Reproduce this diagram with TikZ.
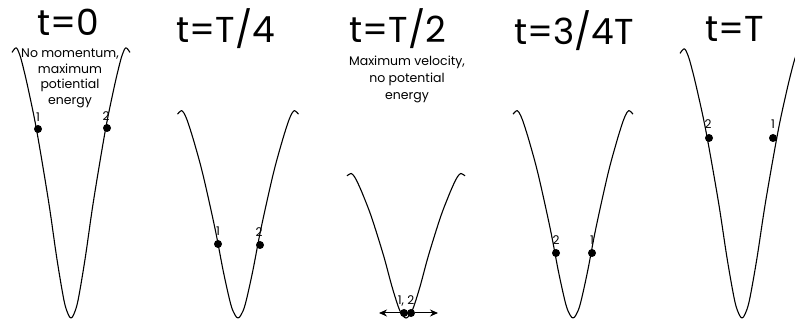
\documentclass[tikz,border=0pt]{standalone}
\usepackage{fontspec}
\setmainfont{Poppins}
\usetikzlibrary{arrows.meta}
\tikzset{
  wellline/.style={line width=1.1pt, black, line join=round},
  ball/.style={circle, fill=black, inner sep=0pt, minimum size=8pt},
  numlabel/.style={font=\fontsize{12}{12}\selectfont, inner sep=0pt, anchor=center},
  titletext/.style={font=\fontsize{36}{36}\selectfont, inner sep=0pt, anchor=base},
  notetext/.style={font=\fontsize{12.5}{15.5}\selectfont, align=center, inner sep=0pt, anchor=north},
  motion/.style={-{Stealth[length=8pt,width=7pt]}, line width=1pt}
}
% #1 centre x, #2 bottom y, #3 half width at rim, #4 depth
\newcommand\wellcurve[4]{%
  \begin{scope}[shift={(#1,#2)}, x=#3pt, y=#4pt]
    \draw[wellline] plot[smooth, tension=0.55] coordinates {
      (-1,0.98) (-0.93,0.997) (-0.87,0.972) (-0.81,0.925) (-0.72,0.84)
      (-0.58,0.69) (-0.38,0.43) (-0.24,0.22) (-0.12,0.066) (-0.05,0.015)
      (0,0)
      (0.05,0.015) (0.12,0.066) (0.24,0.22) (0.38,0.43) (0.58,0.69)
      (0.72,0.84) (0.81,0.925) (0.87,0.972) (0.93,0.997) (1,0.98)};
  \end{scope}}
\begin{document}
\begin{tikzpicture}[x=1pt, y=-1pt]
  \useasboundingbox (0,0) rectangle (795,320);

  % wells
  \wellcurve{71}{318}{59}{271}
  \wellcurve{238}{318}{60.5}{208}
  \wellcurve{406}{318}{59}{145}
  \wellcurve{573}{318}{60}{208}
  \wellcurve{742}{318}{62}{270}

  % titles
  \node[titletext] (t0) at (68,36) {t=0};
  \node[titletext] (t1) at (226,43) {t=T/4};
  \node[titletext] (t2) at (398,43) {t=T/2};
  \node[titletext] (t3) at (574,45) {t=3/4T};
  \node[titletext] (t4) at (735,42) {t=T};

  % notes
  \node[notetext] (n0) at (70,49) {No momentum,\\maximum\\potiential\\energy};
  \node[notetext, font=\fontsize{12.5}{17}\selectfont] (n2) at (407,56) {Maximum velocity,\\no potential\\energy};

  % t = 0
  \node[ball] (d0a) at (38,129) {};
  \node[ball] (d0b) at (107,128) {};
  \node[numlabel] (l0a) at ([yshift=12pt]d0a) {1};
  \node[numlabel] (l0b) at ([yshift=12pt,xshift=-1pt]d0b) {2};

  % t = T/4
  \node[ball] (d1a) at (218,244) {};
  \node[ball] (d1b) at (260,245) {};
  \node[numlabel] (l1a) at ([yshift=13pt]d1a) {1};
  \node[numlabel] (l1b) at ([yshift=13pt,xshift=-1pt]d1b) {2};

  % t = T/2
  \node[ball] (d2a) at (404,313) {};
  \node[ball] (d2b) at (411,313) {};
  \node[numlabel] (l2) at (406,301) {1, 2};
  \coordinate (e2a) at (379,313);
  \coordinate (e2b) at (438,313);
  \draw[motion] (d2a) -- (e2a);
  \draw[motion] (d2b) -- (e2b);

  % t = 3/4 T
  \node[ball] (d3a) at (592,253) {};
  \node[ball] (d3b) at (556,253) {};
  \node[numlabel] (l3a) at ([yshift=13pt]d3a) {1};
  \node[numlabel] (l3b) at ([yshift=13pt]d3b) {2};

  % t = T
  \node[ball] (d4a) at (773,138) {};
  \node[ball] (d4b) at (709,138) {};
  \node[numlabel] (l4a) at ([yshift=14pt]d4a) {1};
  \node[numlabel] (l4b) at ([yshift=14pt,xshift=-1pt]d4b) {2};
\end{tikzpicture}
\end{document}
